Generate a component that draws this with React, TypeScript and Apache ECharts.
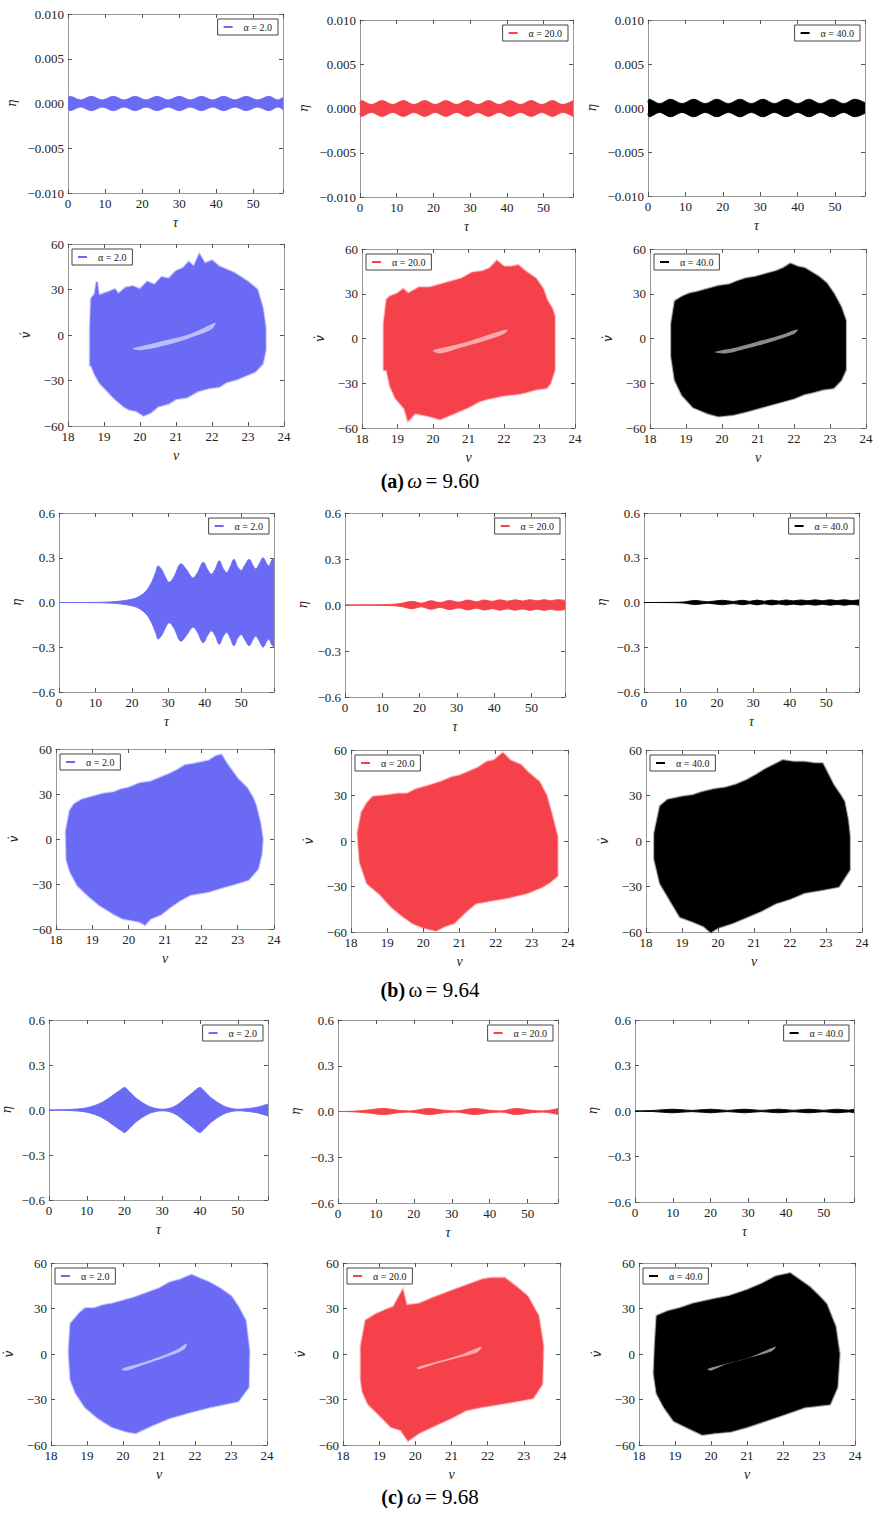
import React, { useEffect, useRef } from "react";
import * as echarts from "echarts";

const FONT = "'Liberation Serif', 'DejaVu Serif', serif";
const COLORS = ["#6a6af5", "#f5424a", "#000000"];
const ALPHA_LABELS = ["α = 2.0", "α = 20.0", "α = 40.0"];
const CAPTION_VALUES = ["9.60", "9.64", "9.68"];
const CAPTION_TAGS = ["(a)", "(b)", "(c)"];
const TAU_MAX = [58, 59, 58];
const TAU_TICKS = [0, 10, 20, 30, 40, 50];
const ETA_RANGE_A = [-0.01, 0.01, 0.005];
const ETA_RANGE_BC = [-0.6, 0.6, 0.3];
const V_RANGE = [18, 24, 1];
const VDOT_RANGE = [-60, 60, 30];

// ---- time-series envelopes: [tau, amplitude of eta] ----
const ENV_A_2 = [[0,0.00055],[0.5,0.0008],[3.4,0.0004],[6.3,0.0008],[9.25,0.0004],[12.2,0.0008],[15.15,0.0004],[18.1,0.0008],[21.05,0.0004],[24,0.0008],[27,0.0004],[30,0.0008],[33,0.0004],[36,0.0008],[39,0.0004],[42,0.0008],[45,0.0004],[48.1,0.0008],[51.1,0.0004],[54.2,0.0008],[56.6,0.0004],[58,0.0007]];
const ENV_A_20 = [[0,0.0005],[0.3,0.0009],[3.1,0.00045],[6,0.0009],[8.9,0.00045],[11.8,0.0009],[14.7,0.00045],[17.6,0.0009],[20.5,0.00045],[23.4,0.0009],[26.3,0.00045],[29.2,0.0009],[32.1,0.00045],[35,0.0009],[37.9,0.00045],[40.8,0.0009],[43.7,0.00045],[46.6,0.0009],[49.5,0.00045],[52.4,0.0009],[55.2,0.00045],[58,0.0009]];
const ENV_A_40 = [[0,0.0006],[0.3,0.001],[3.1,0.0005],[6,0.001],[9.1,0.0005],[12.2,0.001],[15.3,0.0005],[18.4,0.001],[21.5,0.0005],[24.6,0.001],[27.6,0.0005],[30.7,0.001],[33.8,0.0005],[36.9,0.001],[40,0.0005],[43,0.001],[46.1,0.0005],[49.2,0.001],[52.3,0.0005],[55.3,0.001],[58,0.0006]];
const ENV_B_2 = [[0,0],[10,0.001],[14,0.004],[17,0.01],[20,0.022],[22,0.04],[24,0.08],[25.5,0.14],[26.5,0.2],[27.2,0.245],[28.2,0.22],[29.2,0.17],[30.2,0.135],[31.5,0.17],[33.5,0.26],[35,0.22],[36.8,0.165],[38,0.2],[39.6,0.27],[40.8,0.22],[41.8,0.19],[42.8,0.22],[44,0.28],[45,0.23],[46,0.2],[47,0.24],[48,0.29],[49,0.24],[50,0.215],[51,0.25],[52.2,0.29],[53.2,0.25],[54,0.225],[55,0.26],[56,0.3],[57,0.26],[57.6,0.245],[58.3,0.28],[59,0.3]];
const ENV_B_20 = [[0,0],[8,0.001],[12,0.004],[15,0.01],[18,0.024],[20.5,0.012],[23,0.028],[25.5,0.016],[28,0.03],[30.5,0.019],[33,0.032],[35.2,0.022],[37.4,0.033],[39.5,0.024],[41.6,0.034],[43.6,0.025],[45.6,0.034],[47.6,0.026],[49.6,0.035],[51.5,0.027],[53.4,0.035],[55.2,0.028],[57,0.035],[59,0.03]];
const ENV_B_40 = [[0,0],[8,0.001],[11,0.004],[14,0.014],[17.5,0.005],[21.5,0.015],[24.5,0.007],[27,0.015],[29,0.008],[31,0.016],[33,0.009],[35,0.016],[37,0.01],[39,0.017],[41,0.011],[43,0.017],[45,0.012],[47,0.018],[49,0.012],[51,0.018],[53,0.013],[55,0.018],[57,0.013],[59,0.018]];
const ENV_C_2 = [[0,0],[5,0.003],[10,0.015],[14,0.05],[17,0.1],[19,0.135],[20,0.15],[21,0.13],[23,0.08],[26,0.03],[28,0.012],[30,0.005],[32,0.012],[34,0.035],[36,0.075],[38,0.115],[40,0.15],[41,0.13],[43,0.08],[46,0.03],[48,0.012],[50,0.005],[52,0.008],[55,0.018],[58,0.04]];
const ENV_C_20 = [[0,0],[4,0.002],[8,0.01],[12,0.02],[16,0.008],[19,0.004],[24,0.02],[28,0.008],[31,0.004],[36,0.02],[40,0.008],[43,0.004],[47,0.02],[51,0.008],[54,0.004],[58,0.02]];
const ENV_C_40 = [[0,0],[5,0.004],[10,0.012],[15,0.004],[20,0.012],[24.5,0.004],[29,0.012],[33.5,0.004],[38,0.012],[42,0.005],[46,0.012],[50,0.005],[53.5,0.012],[56.5,0.006],[58,0.012]];

// ---- phase portraits: outline of the filled region [v, vdot] ----
const PH_A_2 = [[18.62,-20],[18.62,5],[18.65,24],[18.75,27],[18.8,35],[18.85,26],[19.1,28],[19.3,30],[19.4,27],[19.6,31],[19.8,32],[20.0,30],[20.2,35],[20.4,33],[20.6,38],[20.8,37],[21.0,42],[21.2,44],[21.35,48],[21.5,45],[21.65,53],[21.8,47],[22.0,49],[22.2,45],[22.4,43],[22.6,41],[22.8,38],[23.0,35],[23.1,33],[23.25,30],[23.4,18],[23.48,5],[23.48,-10],[23.4,-19],[23.2,-24],[23.0,-26],[22.7,-29],[22.4,-31],[22.2,-34],[21.9,-35],[21.6,-37],[21.3,-41],[21.0,-42],[20.8,-45],[20.5,-47],[20.3,-51],[20.1,-53],[19.9,-50],[19.7,-49],[19.55,-47],[19.3,-42],[19.1,-37],[18.9,-32],[18.75,-26],[18.65,-20]];
const PH_A_20 = [[18.62,-21],[18.62,10],[18.7,26],[18.78,28],[19.0,30],[19.16,33],[19.3,30],[19.6,34],[19.9,34],[20.2,36],[20.5,38],[20.8,40],[21.1,44],[21.4,45],[21.6,47],[21.8,52],[22.0,48],[22.2,48],[22.4,49],[22.6,45],[22.9,40],[23.1,33],[23.2,26],[23.35,20],[23.42,15],[23.42,-21],[23.3,-30],[23.2,-33],[22.9,-34],[22.6,-36],[22.4,-37],[22.0,-38],[21.6,-40],[21.3,-42],[21.0,-46],[20.7,-49],[20.4,-52],[20.2,-54],[19.9,-52],[19.7,-51],[19.5,-50],[19.3,-55],[19.2,-47],[18.95,-40],[18.8,-32],[18.7,-21]];
const PH_A_40 = [[18.6,-12],[18.6,10],[18.7,25],[18.9,28],[19.1,30],[19.3,31],[19.6,33],[19.9,35],[20.2,36],[20.4,38],[20.65,40],[20.9,41],[21.2,43],[21.5,45],[21.7,47],[21.9,50],[22.1,48],[22.3,47],[22.5,44],[22.7,41],[22.9,37],[23.1,30],[23.3,21],[23.43,12],[23.43,-21],[23.3,-28],[23.1,-33],[22.8,-34],[22.5,-36],[22.3,-37],[22.0,-40],[21.7,-42],[21.4,-44],[21.1,-46],[20.8,-48],[20.65,-49],[20.3,-51],[19.9,-52],[19.6,-50],[19.2,-46],[18.9,-38],[18.7,-28]];
const PH_B_2 = [[18.3,-14],[18.28,5],[18.39,19],[18.5,23],[18.7,26],[19.0,28],[19.3,30],[19.6,31],[19.8,33],[20.0,34],[20.3,37],[20.6,38],[20.9,41],[21.1,43],[21.35,46],[21.55,49],[21.8,50],[22.0,51],[22.2,52],[22.4,55],[22.55,56],[22.7,50],[22.85,45],[23.0,40],[23.25,34],[23.4,28],[23.5,22],[23.62,10],[23.68,0],[23.65,-10],[23.55,-20],[23.3,-27],[22.9,-30],[22.6,-32],[22.2,-35],[21.7,-37],[21.4,-41],[21.1,-46],[20.9,-50],[20.6,-53],[20.45,-57],[20.3,-55],[20.1,-54],[19.85,-53],[19.6,-50],[19.2,-44],[18.9,-38],[18.6,-31],[18.4,-22]];
const PH_B_20 = [[18.25,-14],[18.19,5],[18.3,19],[18.45,25],[18.6,29],[19.0,30],[19.3,31],[19.55,31],[19.8,34],[20.1,36],[20.5,39],[20.8,42],[21.0,43],[21.3,46],[21.5,48],[21.75,52],[21.95,53],[22.2,58],[22.4,53],[22.7,50],[22.9,45],[23.2,39],[23.4,30],[23.55,17],[23.7,3],[23.7,-23],[23.5,-27],[23.3,-30],[22.9,-34],[22.4,-37],[21.9,-39],[21.45,-41],[21.2,-46],[20.85,-54],[20.6,-56],[20.35,-59],[20.0,-57],[19.7,-54],[19.4,-49],[19.1,-43],[18.8,-35],[18.45,-28]];
const PH_B_40 = [[18.24,-12],[18.24,5],[18.4,23],[18.6,27],[19.0,29],[19.3,30],[19.55,32],[19.9,34],[20.2,35],[20.5,37],[20.8,40],[21.1,44],[21.3,47],[21.55,50],[21.8,53],[22.1,52],[22.4,52],[22.7,51],[22.9,51],[23.05,44],[23.2,37],[23.4,30],[23.5,26],[23.6,14],[23.65,3],[23.65,-19],[23.35,-30],[22.9,-32],[22.4,-34],[22.0,-38],[21.6,-41],[21.2,-46],[20.8,-50],[20.4,-54],[20.0,-57],[19.8,-60],[19.6,-56],[19.3,-53],[18.95,-50],[18.7,-40],[18.4,-28]];
const PH_C_2 = [[18.55,-17],[18.5,2],[18.55,20],[18.8,27],[18.95,30],[19.2,30],[19.45,32],[19.7,33],[20.0,35],[20.3,37],[20.65,40],[21.0,43],[21.3,47],[21.6,49],[21.9,52],[22.1,50],[22.4,47],[22.7,43],[23.0,38],[23.2,31],[23.4,22],[23.5,2],[23.48,-22],[23.2,-31],[22.8,-33],[22.4,-35],[21.9,-38],[21.3,-42],[20.8,-47],[20.35,-52],[20.1,-51],[19.7,-48],[19.3,-42],[18.95,-35],[18.7,-26]];
const PH_C_20 = [[18.5,-17],[18.5,5],[18.63,22],[18.9,26],[19.18,29],[19.4,31],[19.65,42],[19.75,32],[20.1,33],[20.5,37],[21.05,42],[21.4,45],[21.85,49],[22.1,50],[22.47,50],[22.8,44],[23.1,38],[23.4,25],[23.53,5],[23.5,-20],[23.25,-29],[22.8,-31],[22.3,-33],[21.8,-35],[21.4,-37],[21.0,-42],[20.45,-48],[20.1,-52],[19.8,-57],[19.6,-50],[19.33,-48],[19.0,-40],[18.7,-33],[18.55,-25]];
const PH_C_40 = [[18.42,-13],[18.45,5],[18.5,25],[18.8,28],[19.13,30],[19.5,33],[20.07,36],[20.5,38],[21.0,42],[21.4,46],[21.8,51],[22.2,53],[22.5,48],[22.74,44],[23.0,38],[23.2,33],[23.45,18],[23.56,0],[23.5,-22],[23.3,-33],[22.6,-35],[22.0,-40],[21.5,-44],[21.0,-48],[20.55,-51],[20.1,-52],[19.76,-53],[19.4,-49],[18.97,-44],[18.7,-35],[18.5,-26]];

// ---- inner unfilled streaks of the phase portraits ----
const HOLE_A_2 = [[19.8,-9],[20.3,-6],[20.8,-3],[21.3,0],[21.8,5],[22.1,8],[22.0,4],[21.5,-1],[21.0,-5],[20.5,-8],[20.0,-10]];
const HOLE_A_20 = [[20.0,-8],[20.5,-5],[21.0,-2],[21.5,2],[22.1,6],[22.0,3],[21.4,-2],[20.8,-6],[20.2,-10]];
const HOLE_A_40 = [[19.8,-9],[20.4,-6],[21.0,-2],[21.6,2],[22.1,6],[22.0,3],[21.4,-2],[20.8,-6],[20.1,-10]];
const HOLE_C_2 = [[19.96,-10],[20.5,-6],[21.0,-2],[21.5,3],[21.77,7],[21.7,3],[21.2,-2],[20.6,-7],[20.1,-11]];
const HOLE_C_20 = [[20.04,-9],[20.6,-5],[21.2,-1],[21.84,5],[21.7,1],[21.1,-3],[20.5,-7],[20.1,-10]];
const HOLE_C_40 = [[19.9,-10],[20.5,-6],[21.1,-2],[21.8,5],[21.7,2],[21.0,-3],[20.4,-7],[20.0,-11]];

const ENVS = [[ENV_A_2, ENV_A_20, ENV_A_40], [ENV_B_2, ENV_B_20, ENV_B_40], [ENV_C_2, ENV_C_20, ENV_C_40]];
const PHASES = [[PH_A_2, PH_A_20, PH_A_40], [PH_B_2, PH_B_20, PH_B_40], [PH_C_2, PH_C_20, PH_C_40]];
const HOLES = [[HOLE_A_2, HOLE_A_20, HOLE_A_40], [null, null, null], [HOLE_C_2, HOLE_C_20, HOLE_C_40]];

// layout (left, top, width, height) of each plot box
const TS_RECTS = [
  [[68, 14, 215, 179], [360, 20, 213, 177], [648, 20, 217, 176]],
  [[59, 513, 215, 179], [345, 513, 220, 184], [644, 513, 215, 179]],
  [[48, 1020, 220, 180], [338, 1020, 220, 183], [635, 1020, 219, 182]],
];
const PH_RECTS = [
  [[68, 244, 216, 182], [362, 249, 213, 179], [650, 249, 216, 179]],
  [[56, 749, 218, 180], [351, 750, 217, 182], [646, 750, 216, 182]],
  [[51, 1263, 216, 182], [343, 1263, 217, 182], [639, 1263, 216, 182]],
];
const CAPTION_Y = [481, 990, 1497];
const W = 884;
const H = 1514;

function fmtNum(v: number, d: number) {
  if (Math.abs(v) < 1e-9) v = 0;
  const s = v.toFixed(d);
  return s.replace("-", "\u2212");
}

function buildOption() {
  const grid: any[] = [];
  const xAxis: any[] = [];
  const yAxis: any[] = [];
  const series: any[] = [];
  const legend: any[] = [];
  const labelStyle = { fontFamily: FONT, fontSize: 13, color: "#222" };
  const nameStyle = { fontFamily: FONT, fontSize: 14, fontStyle: "italic", color: "#222" };
  const boxLine = { show: true, onZero: false, lineStyle: { color: "#999", width: 1 } };
  const tick = { show: true, inside: true, length: 4, lineStyle: { color: "#555", width: 1 } };

  const addPanel = (rect: number[], kind: "ts" | "ph", g: number, col: number) => {
    const gi = grid.length;
    grid.push({ left: rect[0], top: rect[1], width: rect[2], height: rect[3] });
    const isTs = kind === "ts";
    const xr = isTs ? [0, TAU_MAX[g], 10] : V_RANGE;
    const yr = isTs ? (g === 0 ? ETA_RANGE_A : ETA_RANGE_BC) : VDOT_RANGE;
    const yDec = isTs ? (g === 0 ? 3 : 1) : 0;
    const xBase = { type: "value", gridIndex: gi, min: xr[0], max: xr[1], interval: xr[2], splitLine: { show: false }, axisLine: boxLine, axisTick: tick };
    const yBase = { type: "value", gridIndex: gi, min: yr[0], max: yr[1], interval: yr[2], splitLine: { show: false }, axisLine: boxLine, axisTick: tick };
    xAxis.push({
      ...xBase,
      position: "bottom",
      name: isTs ? "τ" : "v",
      nameLocation: "middle",
      nameGap: 22,
      nameTextStyle: nameStyle,
      axisLabel: {
        ...labelStyle,
        margin: 4,
        formatter: (v: number) => {
          if (isTs) return TAU_TICKS.indexOf(Math.round(v)) >= 0 && Math.abs(v - Math.round(v)) < 1e-6 ? String(Math.round(v)) : "";
          return String(Math.round(v));
        },
      },
    });
    xAxis.push({ ...xBase, position: "top", axisLabel: { show: false } });
    yAxis.push({
      ...yBase,
      position: "left",
      name: isTs ? "η" : "v\u0307",
      nameLocation: "middle",
      nameGap: isTs ? (g === 0 ? 50 : 36) : 36,
      nameTextStyle: { ...nameStyle, fontFamily: "'DejaVu Serif', serif", fontSize: 12 },
      axisLabel: { ...labelStyle, margin: 4, formatter: (v: number) => fmtNum(v, yDec) },
    });
    yAxis.push({ ...yBase, position: "right", axisLabel: { show: false } });
    const color = COLORS[col];
    const xi = 2 * gi;
    const yi = 2 * gi;
    if (isTs) {
      const env = ENVS[g][col];
      const overlap = -(yr[1] - yr[0]) * 0.003;
      const common = {
        type: "line",
        xAxisIndex: xi,
        yAxisIndex: yi,
        smooth: 0.35,
        symbol: "none",
        silent: true,
        lineStyle: { color, width: 0.9 },
        itemStyle: { color },
        z: 2,
      };
      series.push({ ...common, name: ALPHA_LABELS[col], data: env, areaStyle: { color, opacity: 1, origin: overlap } });
      series.push({ ...common, name: "lower-" + g + "-" + col, data: env.map((p) => [p[0], -p[1]]), areaStyle: { color, opacity: 1, origin: 0 } });
    } else {
      const outline = PHASES[g][col];
      const hole = HOLES[g][col];
      series.push({
        type: "custom",
        name: ALPHA_LABELS[col],
        xAxisIndex: xi,
        yAxisIndex: yi,
        silent: true,
        itemStyle: { color },
        data: [[21, 0]],
        encode: { x: 0, y: 1 },
        renderItem: (params: any, api: any) => {
          const pts = outline.map((p) => api.coord(p));
          const children: any[] = [
            {
              type: "polygon",
              shape: { points: pts },
              style: { fill: "none", stroke: color, lineWidth: 3, opacity: 0.35, lineJoin: "miter" },
            },
            {
              type: "polygon",
              shape: { points: pts },
              style: { fill: color, stroke: color, lineWidth: 0.8 },
            },
          ];
          if (hole) {
            children.push({
              type: "polygon",
              shape: { points: hole.map((p) => api.coord(p)), smooth: 0.3 },
              style: { fill: "#ffffff", opacity: 0.55 },
            });
          }
          return { type: "group", children };
        },
        z: 2,
      });
    }
    const leg: any = {
      data: [{ name: ALPHA_LABELS[col], icon: "rect" }],
      orient: "horizontal",
      itemWidth: 9,
      itemHeight: 2,
      itemGap: 0,
      padding: [3, 6, 3, 6],
      borderColor: "#444",
      borderWidth: 1,
      borderRadius: 0,
      backgroundColor: "#fff",
      selectedMode: false,
      textStyle: { fontFamily: FONT, fontSize: 10, color: "#222", padding: [0, 0, 0, 6] },
      top: rect[1] + 5,
      z: 5,
    };
    if (isTs) leg.right = W - (rect[0] + rect[2]) + 5;
    else leg.left = rect[0] + 4;
    legend.push(leg);
  };

  for (let g = 0; g < 3; g++) {
    for (let c = 0; c < 3; c++) addPanel(TS_RECTS[g][c], "ts", g, c);
    for (let c = 0; c < 3; c++) addPanel(PH_RECTS[g][c], "ph", g, c);
  }

  const graphic = CAPTION_TAGS.map((tag, i) => ({
    type: "text",
    x: 430,
    y: CAPTION_Y[i],
    style: {
      text: "{t|" + tag + "} {w|ω} {n|= " + CAPTION_VALUES[i] + "}",
      textAlign: "center",
      textVerticalAlign: "middle",
      rich: {
        t: { fontFamily: FONT, fontWeight: "bold", fontSize: 20, fill: "#000", color: "#000" },
        w: { fontFamily: FONT, fontStyle: i === 1 ? "normal" : "italic", fontSize: 21, fill: "#000", color: "#000" },
        n: { fontFamily: FONT, fontSize: 21, fill: "#000", color: "#000" },
      },
    },
  }));

  return {
    animation: false,
    backgroundColor: "#ffffff",
    grid,
    xAxis,
    yAxis,
    series,
    legend,
    graphic,
  };
}

export default function App() {
  const ref = useRef<HTMLDivElement>(null);
  useEffect(() => {
    if (!ref.current) return;
    const chart = echarts.init(ref.current, undefined, { renderer: "svg" });
    chart.setOption(buildOption() as any);
    return () => chart.dispose();
  }, []);
  return <div ref={ref} style={{ position: "absolute", left: 0, top: 0, width: W, height: H, background: "#fff" }} />;
}
